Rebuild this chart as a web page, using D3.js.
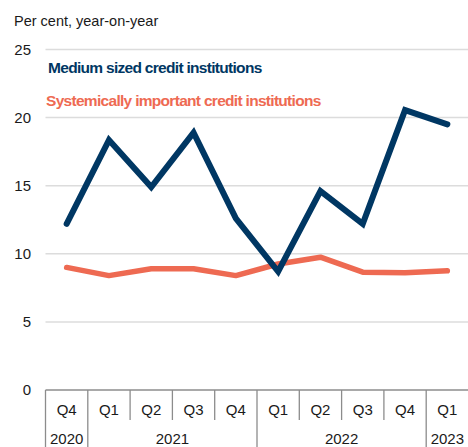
<!DOCTYPE html>
<html>
<head>
<meta charset="utf-8">
<script src="https://cdn.jsdelivr.net/npm/d3@7"></script>
<style>
  html, body { margin: 0; padding: 0; background: #fff; }
  svg { display: block; font-family: "Liberation Sans", Arial, sans-serif; }
</style>
</head>
<body>
<div id="chart"></div>
<script>
// Quarterly categories and their years
const quarters = ["Q4", "Q1", "Q2", "Q3", "Q4", "Q1", "Q2", "Q3", "Q4", "Q1"];
const years = ["2020", "2021", "2021", "2021", "2021", "2022", "2022", "2022", "2022", "2023"];
// Credit growth, per cent year-on-year
const mediumSized = [12.2, 18.35, 14.9, 18.9, 12.6, 8.7, 14.6, 12.2, 20.55, 19.5];
const systemic = [9.0, 8.4, 8.9, 8.9, 8.4, 9.25, 9.75, 8.65, 8.6, 8.75];
const yTicks = [0, 5, 10, 15, 20, 25];

(function draw() {
  const W = 468, H = 447;
  const plotLeft = 45.5, plotRight = 468.5, plotTop = 49.5, plotBottom = 390;

  const svg = d3.select("#chart").append("svg").attr("width", W).attr("height", H);

  const x = d3.scaleBand().domain(d3.range(quarters.length)).range([plotLeft, plotRight]);
  const y = d3.scaleLinear().domain([0, 25]).range([plotBottom, plotTop]);

  // Gridlines and y labels
  svg.append("g").selectAll("line").data(yTicks.filter(d => d > 0)).join("line")
    .attr("x1", plotLeft).attr("x2", plotRight)
    .attr("y1", d => y(d)).attr("y2", d => y(d))
    .attr("stroke", "#dcdcdc").attr("stroke-width", 1.5);

  svg.append("g").selectAll("text").data(yTicks).join("text")
    .attr("x", 31).attr("y", d => y(d)).attr("dy", "0.35em")
    .attr("text-anchor", "end").attr("font-size", 15).attr("fill", "#1a1a1a")
    .text(d => d);

  // Baseline and category frame
  const axisG = svg.append("g").attr("stroke", "#8c8c8c").attr("stroke-width", 1.3);
  axisG.append("line").attr("x1", plotLeft).attr("x2", plotRight).attr("y1", plotBottom).attr("y2", plotBottom);
  const boundaries = d3.range(quarters.length).map(i => ({
    xPos: x(i),
    yearStart: i === 0 || years[i] !== years[i - 1]
  }));
  axisG.selectAll("line.sep").data(boundaries).join("line")
    .attr("class", "sep")
    .attr("x1", d => d.xPos).attr("x2", d => d.xPos)
    .attr("y1", plotBottom).attr("y2", d => d.yearStart ? H : 420);

  // Quarter labels
  svg.append("g").selectAll("text").data(quarters).join("text")
    .attr("x", (d, i) => x(i) + x.bandwidth() / 2).attr("y", 410).attr("dy", "0.35em")
    .attr("text-anchor", "middle").attr("font-size", 15).attr("fill", "#1a1a1a")
    .text(d => d);

  // Year labels centred under their quarters
  const yearGroups = d3.groups(d3.range(quarters.length), i => years[i]);
  svg.append("g").selectAll("text").data(yearGroups).join("text")
    .attr("x", d => (x(d[1][0]) + x(d[1][d[1].length - 1]) + x.bandwidth()) / 2)
    .attr("y", 439).attr("dy", "0.35em")
    .attr("text-anchor", "middle").attr("font-size", 15).attr("fill", "#1a1a1a")
    .text(d => d[0]);

  // Series lines
  const line = d3.line().x((d, i) => x(i) + x.bandwidth() / 2).y(d => y(d));
  svg.append("path").datum(systemic)
    .attr("d", line).attr("fill", "none")
    .attr("stroke", "#ee6a52").attr("stroke-width", 5.5)
    .attr("stroke-linejoin", "round").attr("stroke-linecap", "round");
  svg.append("path").datum(mediumSized)
    .attr("d", line).attr("fill", "none")
    .attr("stroke", "#003763").attr("stroke-width", 6)
    .attr("stroke-linejoin", "miter").attr("stroke-linecap", "round");

  // Unit label
  svg.append("text").attr("x", 14).attr("y", 21).attr("dy", "0.35em")
    .attr("font-size", 14.5).attr("fill", "#1a1a1a").text("Per cent, year-on-year");

  // Series labels
  svg.append("text").attr("x", 48).attr("y", 68).attr("dy", "0.35em")
    .attr("font-size", 15.5).attr("font-weight", "bold").attr("letter-spacing", -0.7)
    .attr("fill", "#003763").text("Medium sized credit institutions");
  svg.append("text").attr("x", 46).attr("y", 101).attr("dy", "0.35em")
    .attr("font-size", 15.5).attr("font-weight", "bold").attr("letter-spacing", -0.7)
    .attr("fill", "#ee6a52").text("Systemically important credit institutions");
})();
</script>
</body>
</html>
